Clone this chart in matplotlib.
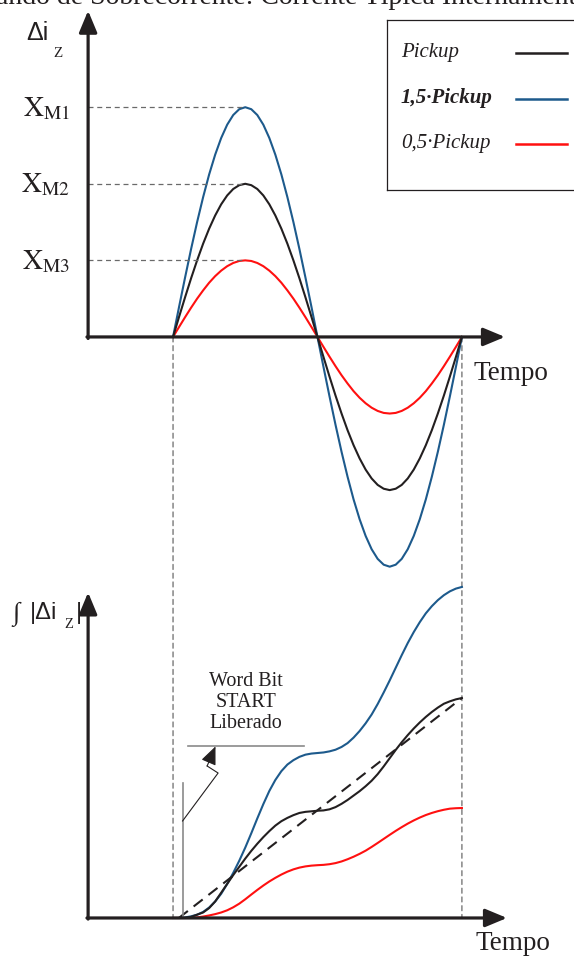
import numpy as np
import matplotlib.pyplot as plt
from matplotlib.patches import ConnectionPatch

plt.rcParams['font.family'] = 'Liberation Serif'
plt.rcParams['mathtext.fontset'] = 'stix'

# one period of the zone current, read every 1/48 of the period
tempo = np.linspace(0, 1, 49)

pickup = [0, 0.131, 0.259, 0.383, 0.500, 0.609, 0.707, 0.793, 0.866, 0.924, 0.966, 0.991, 1.000,
          0.991, 0.966, 0.924, 0.866, 0.793, 0.707, 0.609, 0.500, 0.383, 0.259, 0.131, 0,
          -0.131, -0.259, -0.383, -0.500, -0.609, -0.707, -0.793, -0.866, -0.924, -0.966, -0.991, -1.000,
          -0.991, -0.966, -0.924, -0.866, -0.793, -0.707, -0.609, -0.500, -0.383, -0.259, -0.131, 0]
pickup_15 = [0, 0.196, 0.388, 0.574, 0.750, 0.913, 1.061, 1.190, 1.299, 1.386, 1.449, 1.487, 1.500,
             1.487, 1.449, 1.386, 1.299, 1.190, 1.061, 0.913, 0.750, 0.574, 0.388, 0.196, 0,
             -0.196, -0.388, -0.574, -0.750, -0.913, -1.061, -1.190, -1.299, -1.386, -1.449, -1.487, -1.500,
             -1.487, -1.449, -1.386, -1.299, -1.190, -1.061, -0.913, -0.750, -0.574, -0.388, -0.196, 0]
pickup_05 = [0, 0.065, 0.129, 0.191, 0.250, 0.304, 0.354, 0.397, 0.433, 0.462, 0.483, 0.496, 0.500,
             0.496, 0.483, 0.462, 0.433, 0.397, 0.354, 0.304, 0.250, 0.191, 0.129, 0.065, 0,
             -0.065, -0.129, -0.191, -0.250, -0.304, -0.354, -0.397, -0.433, -0.462, -0.483, -0.496, -0.500,
             -0.496, -0.483, -0.462, -0.433, -0.397, -0.354, -0.304, -0.250, -0.191, -0.129, -0.065, 0]

# integral of |delta i| (bottom chart)
int_pickup = [0, 0, 0, 0.010, 0.030, 0.050, 0.090, 0.150, 0.230, 0.310, 0.390, 0.465, 0.540,
              0.610, 0.675, 0.735, 0.790, 0.840, 0.880, 0.910, 0.935, 0.955, 0.965, 0.970, 0.975,
              0.978, 0.988, 1.008, 1.038, 1.073, 1.113, 1.153, 1.198, 1.248, 1.308, 1.378, 1.453,
              1.528, 1.598, 1.663, 1.723, 1.778, 1.828, 1.873, 1.913, 1.948, 1.970, 1.988, 2.000]
int_15 = [0, 0, 0.005, 0.015, 0.030, 0.055, 0.095, 0.150, 0.220, 0.310, 0.410, 0.520, 0.640,
          0.770, 0.905, 1.035, 1.155, 1.255, 1.335, 1.395, 1.435, 1.465, 1.485, 1.495, 1.500,
          1.505, 1.515, 1.530, 1.555, 1.590, 1.640, 1.700, 1.770, 1.850, 1.945, 2.050, 2.160,
          2.275, 2.390, 2.500, 2.600, 2.690, 2.770, 2.835, 2.890, 2.935, 2.970, 2.995, 3.010]
int_05 = [0, 0, 0, 0, 0.005, 0.013, 0.023, 0.035, 0.050, 0.070, 0.097, 0.130, 0.170,
          0.213, 0.255, 0.295, 0.332, 0.365, 0.395, 0.421, 0.442, 0.458, 0.469, 0.476, 0.480,
          0.483, 0.489, 0.499, 0.514, 0.534, 0.557, 0.583, 0.612, 0.646, 0.682, 0.719, 0.756,
          0.792, 0.826, 0.858, 0.887, 0.913, 0.936, 0.955, 0.971, 0.984, 0.994, 0.998, 1.000]
rampa_t = [0.02, 1.0]
rampa = [0, 2.0]

t_start = 0.033   # Word Bit START liberado

labels = ['Pickup', '1,5·Pickup', '0,5·Pickup']
cores = ['#231f20', '#1d5a8c', '#ff1010']
nomes_x = [r'$\mathrm{X}_{\mathrm{M1}}$', r'$\mathrm{X}_{\mathrm{M2}}$', r'$\mathrm{X}_{\mathrm{M3}}$']

W, H = 574, 959
def px(x, y):
    return x / W, 1 - y / H

fig = plt.figure(figsize=(W / 100, H / 100), dpi=100)
ax1 = fig.add_axes([0, 1 - 582 / H, 1, 582 / H])
ax2 = fig.add_axes([0, 0, 1, 377 / H])
for ax in (ax1, ax2):
    ax.set_xlim(-0.599, 1.388)
    ax.axis('off')
ax1.set_ylim(-1.6, 2.2)
ax2.set_ylim(-0.373, 3.055)

eixo_x = -0.294
preto = '#231f20'
cinza = '#6a6a6a'
seta = dict(arrowstyle='-|>,head_length=0.6,head_width=0.25', mutation_scale=22,
            lw=2.3, color=preto, shrinkA=0, shrinkB=0)

# top chart
ax1.plot(tempo, pickup_05, color=cores[2], lw=1.5)
ax1.plot(tempo, pickup_15, color=cores[1], lw=1.5)
ax1.plot(tempo, pickup, color=cores[0], lw=1.5)
ax1.annotate('', xy=(eixo_x, 2.13), xytext=(eixo_x, -0.01), arrowprops=seta)
ax1.annotate('', xy=(1.149, 0), xytext=(eixo_x - 0.004, 0), arrowprops=seta)

for serie, nome in zip([pickup_15, pickup, pickup_05], nomes_x):
    pico = max(serie)
    t_pico = tempo[int(np.argmax(serie))]
    ax1.plot([eixo_x, t_pico], [pico, pico], color=cinza, lw=0.9, ls=(0, (4, 3)))
    ax1.annotate(nome, xy=(eixo_x, pico), xytext=(-13, -6.5), textcoords='offset points',
                 ha='right', va='baseline', fontsize=20, color=preto)

# bottom chart
ax2.plot(tempo, int_05, color=cores[2], lw=1.5)
ax2.plot(tempo, int_15, color=cores[1], lw=1.5)
ax2.plot(tempo, int_pickup, color=cores[0], lw=1.5)
ax2.plot(rampa_t, rampa, color=preto, lw=1.5, ls=(0, (5.5, 3.5)))
ax2.annotate('', xy=(eixo_x, 2.96), xytext=(eixo_x, -0.01), arrowprops=seta)
ax2.annotate('', xy=(1.156, 0), xytext=(eixo_x - 0.004, 0), arrowprops=seta)

# Word Bit START callout
ax2.plot([t_start, t_start], [0, 1.23], color='#8a8a8a', lw=1.2)
ax2.plot([0.052, 0.453], [1.564, 1.564], color='#8a8a8a', lw=1.2)
ax2.plot([t_start, 0.156, 0.118], [0.882, 1.318, 1.382], color=preto, lw=0.8)
ax2.annotate('', xy=(0.147, 1.56), xytext=(0.118, 1.382),
             arrowprops=dict(arrowstyle='-|>,head_length=0.7,head_width=0.3', mutation_scale=16,
                             lw=0.8, color=preto, shrinkA=0, shrinkB=0))
ax2.text(0.253, 1.96, 'Word Bit\nSTART\nLiberado', ha='center', va='center',
         fontsize=14.5, linespacing=1.15, color=preto)

# vertical guides joining both charts
for t in (0, 1):
    cp = ConnectionPatch(xyA=(t, 0), coordsA=ax1.transData, xyB=(t, 0), coordsB=ax2.transData,
                         color=cinza, lw=0.9, ls=(0, (4, 3)), zorder=0)
    fig.add_artist(cp)

# axis titles
fig.text(*px(26, 40), 'Δi', family='Liberation Sans', fontsize=18, va='baseline', color=preto)
fig.text(*px(53, 57), 'Z', fontsize=11, va='baseline', color=preto)
fig.text(*px(12, 620), '∫', fontsize=19, va='baseline', color=preto)
fig.text(*px(30, 619), '|Δi', family='Liberation Sans', fontsize=17, va='baseline', color=preto)
fig.text(*px(64, 628), 'Z', fontsize=10.5, va='baseline', color=preto)
fig.text(*px(76, 619), '|', family='Liberation Sans', fontsize=17, va='baseline', color=preto)
fig.text(*px(474, 380), 'Tempo', fontsize=19.5, va='baseline', color=preto)
fig.text(*px(475, 950), 'Tempo', fontsize=19.5, va='baseline', color=preto)

# cut caption line at the top (clipped in the original scan too)
fig.text(*px(-4, 4), 'ando de Sobrecorrente: Corrente Típica Internamente', fontsize=20,
         va='baseline', color=preto)

# legend box
axl = fig.add_axes([387 / W, 1 - 190 / H, 200 / W, 170 / H])
axl.set_xlim(0, 200)
axl.set_ylim(170, 0)
axl.set_xticks([])
axl.set_yticks([])
for s in axl.spines.values():
    s.set_linewidth(0.9)
    s.set_color(preto)
for i, (lab, cor) in enumerate(zip(labels, cores)):
    yl = [33, 79, 124][i]
    axl.plot([129, 180], [yl, yl], color=cor, lw=1.8)
    axl.text(14, yl + 4, lab, fontsize=15, style='italic', va='baseline', color=preto,
             fontweight='bold' if i == 1 else 'normal')

fig.savefig('out.png', dpi=100)
